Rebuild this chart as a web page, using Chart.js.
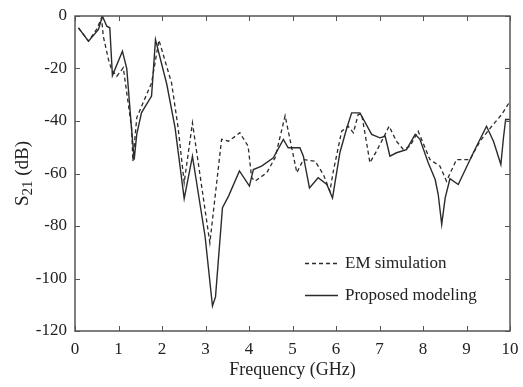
<!DOCTYPE html>
<html>
<head>
<meta charset="utf-8">
<script src="https://cdn.jsdelivr.net/npm/chart.js@4/dist/chart.umd.min.js"></script>
<style>
    html, body { margin: 0; padding: 0; background: #fff; }
    #wrap { width: 523px; height: 387px; }
</style>
</head>
<body>
<div id="wrap"><canvas id="myChart" width="523" height="387"></canvas></div>
<script>
// EM simulation (dashed)
const emFreq = [0.08, 0.31, 0.50, 0.61, 0.65, 0.77, 0.84, 0.96, 1.11, 1.30, 1.33, 1.42, 1.76, 1.93, 2.22, 2.37, 2.51, 2.70,
    3.10, 3.37, 3.53, 3.79, 3.98, 4.06, 4.14, 4.41, 4.60, 4.83, 5.10, 5.25, 5.52, 5.71, 5.86, 5.94, 6.13, 6.28, 6.40,
    6.51, 6.59, 6.67, 6.78, 6.93, 7.09, 7.22, 7.39, 7.55, 7.70, 7.89, 8.16, 8.39, 8.54, 8.77, 9.08, 9.31, 9.58, 9.81, 10];
const emS21 = [-4.5, -9.6, -5, -0.7, -7.7, -16.6, -20.4, -23, -19.7, -42.5, -55.3, -38.7, -25.5, -9.2, -25.5, -42.5, -63.5, -40.7,
    -86.4, -47, -47.7, -44.5, -49.6, -61.6, -62.9, -59.7, -54, -38, -59.7, -54.7, -55.3, -60.4, -66.7, -59, -43.9, -42, -44.5,
    -37.5, -37.5, -45.1, -55.9, -51.5, -46.4, -42, -47.7, -50.9, -49.6, -43.9, -54.7, -57.2, -62.9, -54.7, -54.7, -47.7, -42, -37.5, -32.5];

// Proposed modeling (solid)
const modelFreq = [0.08, 0.31, 0.54, 0.63, 0.73, 0.80, 0.86, 1.09, 1.19, 1.30, 1.36, 1.42, 1.53, 1.76, 1.85, 2.11, 2.30, 2.51,
    2.70, 2.99, 3.16, 3.23, 3.39, 3.53, 3.78, 4.01, 4.10, 4.29, 4.56, 4.79, 4.90, 5.17, 5.25, 5.39, 5.59, 5.79, 5.92, 6.09,
    6.25, 6.36, 6.55, 6.82, 7.01, 7.13, 7.24, 7.39, 7.62, 7.82, 7.93, 8.12, 8.28, 8.35, 8.43, 8.51, 8.62, 8.81, 9.16, 9.46,
    9.62, 9.79, 9.85, 9.90, 10];
const modelS21 = [-4.5, -9.6, -5.1, 0, -3.9, -4.5, -22.7, -13.4, -20, -43, -54.7, -45, -36.8, -30.5, -9, -26, -42.5, -69.6,
    -53.4, -83.9, -110.5, -107, -73, -68.6, -59, -64.8, -58.5, -57.2, -54, -47, -50.2, -50.2, -53.4, -65.5, -61.6, -64.2, -69.3, -52,
    -42.6, -36.9, -36.9, -45.1, -46.4, -45.8, -53.4, -52.1, -50.9, -45.1, -47, -55.9, -62.3, -68, -79.4, -69.3, -62, -64.2, -52, -42,
    -47.7, -56.6, -46.4, -39.4, -39.4];

const seriesLabels = ['EM simulation', 'Proposed modeling'];
const xTicks = [0, 1, 2, 3, 4, 5, 6, 7, 8, 9, 10];
const yTicks = [0, -20, -40, -60, -80, -100, -120];

const serif = 'Liberation Serif, Times New Roman, serif';
const lineColor = '#2b2b2b';
const axisColor = '#555';

function toPoints(xs, ys) {
    return xs.map((x, i) => ({x: x, y: ys[i]}));
}

// box + inward ticks on all four sides
const boxPlugin = {
    id: 'boxPlugin',
    afterDatasetsDraw(chart) {
        const {ctx, chartArea: a, scales} = chart;
        const len = 5;
        ctx.save();
        ctx.strokeStyle = axisColor;
        ctx.lineWidth = 1.5;
        ctx.strokeRect(a.left, a.top, a.right - a.left, a.bottom - a.top);
        ctx.lineWidth = 1;
        ctx.beginPath();
        xTicks.forEach(v => {
            const px = Math.round(scales.x.getPixelForValue(v)) + 0.5;
            ctx.moveTo(px, a.bottom); ctx.lineTo(px, a.bottom - len);
            ctx.moveTo(px, a.top); ctx.lineTo(px, a.top + len);
        });
        yTicks.forEach(v => {
            const py = Math.round(scales.y.getPixelForValue(v)) + 0.5;
            ctx.moveTo(a.left, py); ctx.lineTo(a.left + len, py);
            ctx.moveTo(a.right, py); ctx.lineTo(a.right - len, py);
        });
        ctx.stroke();
        ctx.restore();
    }
};

// legend inside plot, bottom right
const legendPlugin = {
    id: 'legendPlugin',
    afterDatasetsDraw(chart) {
        const {ctx} = chart;
        const x0 = 305, x1 = 338, tx = 345;
        const rows = [263, 295];
        ctx.save();
        ctx.font = '17px ' + serif;
        ctx.textBaseline = 'middle';
        ctx.fillStyle = '#222';
        chart.data.datasets.forEach((ds, i) => {
            const y = rows[i] + 0.5;
            ctx.strokeStyle = ds.borderColor;
            ctx.lineWidth = ds.borderWidth;
            ctx.setLineDash(ds.borderDash || []);
            ctx.beginPath();
            ctx.moveTo(x0, y); ctx.lineTo(x1, y);
            ctx.stroke();
            ctx.fillText(ds.label, tx, rows[i] + 1);
        });
        ctx.restore();
    }
};

// y title with subscript
const yTitlePlugin = {
    id: 'yTitlePlugin',
    afterDraw(chart) {
        const {ctx, chartArea: a} = chart;
        const cy = (a.top + a.bottom) / 2;
        const big = '19px ' + serif, small = '15px ' + serif;
        ctx.save();
        ctx.translate(28, cy);
        ctx.rotate(-Math.PI / 2);
        ctx.fillStyle = '#222';
        ctx.textBaseline = 'alphabetic';
        ctx.font = big;
        const wS = ctx.measureText('S').width;
        const wRest = ctx.measureText(' (dB)').width;
        ctx.font = small;
        const wSub = ctx.measureText('21').width;
        let x = -(wS + wSub + wRest) / 2;
        ctx.font = big;
        ctx.fillText('S', x, 0);
        x += wS;
        ctx.font = small;
        ctx.fillText('21', x, 4);
        x += wSub;
        ctx.font = big;
        ctx.fillText(' (dB)', x, 0);
        ctx.restore();
    }
};

const ctx = document.getElementById('myChart');

new Chart(ctx, {
    type: 'line',
    data: {
        datasets: [{
            label: seriesLabels[0],
            data: toPoints(emFreq, emS21),
            borderColor: lineColor,
            borderWidth: 1.3,
            borderDash: [4, 3],
            pointRadius: 0,
            tension: 0,
            fill: false
        }, {
            label: seriesLabels[1],
            data: toPoints(modelFreq, modelS21),
            borderColor: lineColor,
            borderWidth: 1.4,
            pointRadius: 0,
            tension: 0,
            fill: false
        }]
    },
    options: {
        responsive: false,
        animation: false,
        layout: {padding: {left: 0, right: 13, top: 16, bottom: 0}},
        plugins: {
            legend: {display: false},
            tooltip: {enabled: false}
        },
        scales: {
            x: {
                type: 'linear',
                min: 0,
                max: 10,
                afterBuildTicks: scale => { scale.ticks = xTicks.map(v => ({value: v})); },
                afterFit: scale => {
                    scale.height = 56;
                    scale.paddingLeft = 0;
                    scale.paddingRight = 0;
                },
                grid: {display: false, drawTicks: false},
                border: {display: false},
                ticks: {font: {family: serif, size: 17}, color: '#222', padding: 8, maxRotation: 0},
                title: {display: true, text: 'Frequency (GHz)', font: {family: serif, size: 18}, color: '#222', padding: {top: 2, bottom: 6}}
            },
            y: {
                min: -120,
                max: 0,
                afterBuildTicks: scale => { scale.ticks = yTicks.map(v => ({value: v})); },
                afterFit: scale => {
                    scale.width = 75;
                    scale.paddingTop = 0;
                    scale.paddingBottom = 0;
                },
                grid: {display: false, drawTicks: false},
                border: {display: false},
                ticks: {font: {family: serif, size: 17}, color: '#222', padding: 8}
            }
        }
    },
    plugins: [boxPlugin, legendPlugin, yTitlePlugin]
});
</script>
</body>
</html>
